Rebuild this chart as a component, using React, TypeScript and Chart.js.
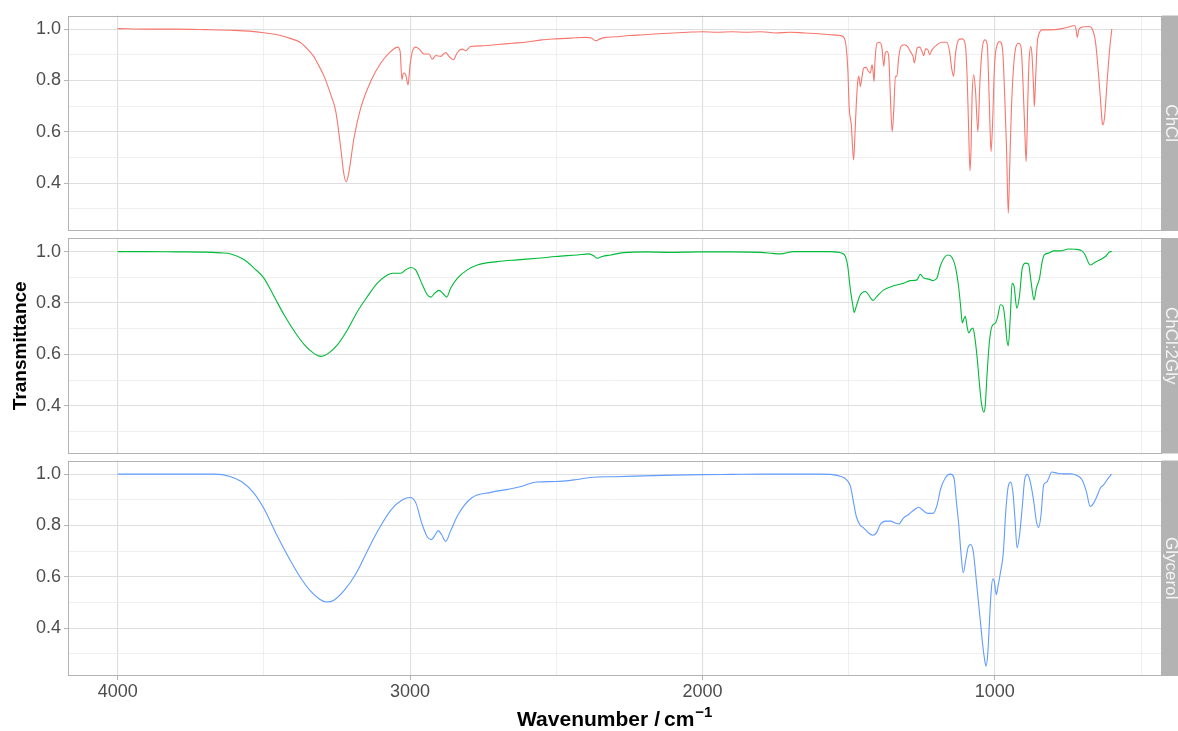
import React, { useEffect, useRef } from "react";
import { Chart, registerables } from "chart.js";

Chart.register(...registerables);

// ---------------- data (wavenumber cm^-1, transmittance) ----------------
const panelLabels = ["ChCl", "ChCl:2Gly", "Glycerol"];
const seriesColors = ["#F8766D", "#00BA38", "#619CFF"];

const xTickValues = [500, 1000, 1500, 2000, 2500, 3000, 3500, 4000];
const xLabelValues = [1000, 2000, 3000, 4000];
const yTickValues = [0.3, 0.4, 0.5, 0.6, 0.7, 0.8, 0.9, 1.0];
const yLabelValues = [0.4, 0.6, 0.8, 1.0];

const xTitleMain = "Wavenumber";
const xTitleUnit = "cm";
const xTitleExponent = "\u22121";
const yTitle = "Transmittance";

const chclSpectrum: [number, number][] = [
  [4000, 1.002], [3900, 1.0], [3800, 1.0], [3700, 0.998], [3600, 0.995], [3550, 0.992],
  [3500, 0.986], [3450, 0.977], [3408, 0.963], [3375, 0.948], [3351, 0.922], [3329, 0.893],
  [3317, 0.868], [3294, 0.816], [3271, 0.744], [3254, 0.679], [3237, 0.536], [3226, 0.432],
  [3218, 0.406], [3209, 0.445], [3192, 0.575], [3169, 0.692], [3135, 0.796], [3100, 0.868],
  [3066, 0.913], [3043, 0.93], [3034, 0.913], [3028, 0.803], [3023, 0.829], [3015, 0.822],
  [3007, 0.783], [3000, 0.861], [2992, 0.913], [2981, 0.93], [2969, 0.922], [2952, 0.903],
  [2935, 0.903], [2924, 0.883], [2912, 0.897], [2895, 0.894], [2878, 0.909], [2867, 0.894],
  [2852, 0.881], [2838, 0.91], [2821, 0.922], [2810, 0.916], [2793, 0.932], [2750, 0.935],
  [2700, 0.94], [2650, 0.945], [2600, 0.95], [2550, 0.958], [2500, 0.962], [2450, 0.965],
  [2400, 0.968], [2380, 0.965], [2365, 0.955], [2350, 0.962], [2330, 0.968], [2300, 0.97],
  [2250, 0.975], [2200, 0.978], [2150, 0.982], [2100, 0.985], [2050, 0.988], [2000, 0.99],
  [1950, 0.988], [1900, 0.99], [1850, 0.988], [1800, 0.99], [1750, 0.985], [1700, 0.988],
  [1650, 0.985], [1600, 0.982], [1563, 0.978], [1529, 0.975], [1515, 0.965], [1508, 0.926],
  [1503, 0.848], [1498, 0.692], [1491, 0.627], [1483, 0.491], [1478, 0.601], [1474, 0.705],
  [1469, 0.796], [1465, 0.816], [1460, 0.777], [1454, 0.816], [1449, 0.848], [1440, 0.851],
  [1432, 0.835], [1426, 0.829], [1420, 0.861], [1417, 0.842], [1413, 0.796], [1410, 0.874],
  [1403, 0.945], [1394, 0.949], [1386, 0.926], [1380, 0.855], [1375, 0.906], [1369, 0.913],
  [1363, 0.894], [1358, 0.757], [1351, 0.601], [1346, 0.679], [1340, 0.816], [1335, 0.816],
  [1329, 0.887], [1321, 0.932], [1310, 0.939], [1298, 0.932], [1289, 0.913], [1280, 0.894],
  [1275, 0.868], [1266, 0.926], [1257, 0.93], [1249, 0.913], [1243, 0.897], [1237, 0.923],
  [1230, 0.922], [1223, 0.9], [1215, 0.919], [1198, 0.939], [1181, 0.949], [1164, 0.949],
  [1155, 0.913], [1147, 0.842], [1141, 0.816], [1135, 0.9], [1124, 0.958], [1112, 0.962],
  [1101, 0.939], [1095, 0.822], [1090, 0.627], [1085, 0.448], [1081, 0.55], [1078, 0.731],
  [1072, 0.822], [1066, 0.757], [1058, 0.601], [1051, 0.796], [1043, 0.926], [1034, 0.958],
  [1026, 0.939], [1019, 0.718], [1013, 0.523], [1008, 0.627], [1001, 0.861], [992, 0.939],
  [983, 0.952], [973, 0.913], [966, 0.731], [960, 0.536], [954, 0.283], [949, 0.471],
  [944, 0.666], [937, 0.835], [929, 0.926], [918, 0.945], [910, 0.926], [903, 0.77],
  [897, 0.588], [893, 0.484], [887, 0.731], [883, 0.874], [877, 0.932], [873, 0.9],
  [867, 0.757], [865, 0.699], [860, 0.822], [855, 0.945], [850, 0.978], [838, 0.997],
  [810, 0.997], [775, 1.001], [741, 1.01], [728, 1.014], [723, 1.004], [718, 0.968],
  [713, 0.997], [701, 1.008], [678, 1.01], [667, 1.001], [656, 0.952], [648, 0.861],
  [639, 0.731], [633, 0.64], [630, 0.627], [624, 0.666], [616, 0.796], [607, 0.926],
  [600, 1.0],
];

const chcl2GlySpectrum: [number, number][] = [
  [4000, 1.0], [3900, 1.0], [3800, 0.999], [3700, 0.998], [3650, 0.995], [3613, 0.991],
  [3567, 0.968], [3533, 0.935], [3500, 0.897], [3465, 0.825], [3431, 0.754], [3396, 0.69],
  [3362, 0.638], [3328, 0.603], [3305, 0.592], [3282, 0.602], [3248, 0.638], [3214, 0.696],
  [3180, 0.767], [3146, 0.825], [3112, 0.877], [3078, 0.909], [3060, 0.916], [3032, 0.916],
  [3015, 0.929], [2998, 0.938], [2981, 0.929], [2958, 0.871], [2941, 0.832], [2929, 0.823],
  [2916, 0.838], [2901, 0.849], [2887, 0.836], [2875, 0.823], [2861, 0.858], [2838, 0.897],
  [2804, 0.929], [2770, 0.948], [2702, 0.961], [2633, 0.968], [2565, 0.974], [2501, 0.981],
  [2428, 0.987], [2388, 0.991], [2371, 0.983], [2360, 0.974], [2343, 0.981], [2314, 0.987],
  [2269, 0.996], [2189, 0.999], [2110, 0.997], [2018, 0.999], [1904, 0.999], [1800, 0.997],
  [1760, 0.993], [1734, 0.991], [1688, 1.0], [1620, 1.0], [1563, 1.0], [1523, 0.994],
  [1511, 0.981], [1503, 0.942], [1494, 0.851], [1486, 0.793], [1481, 0.763], [1474, 0.787],
  [1460, 0.832], [1443, 0.845], [1432, 0.832], [1417, 0.81], [1403, 0.826], [1380, 0.851],
  [1346, 0.867], [1312, 0.877], [1289, 0.887], [1266, 0.89], [1255, 0.912], [1243, 0.897],
  [1226, 0.893], [1212, 0.887], [1198, 0.897], [1187, 0.942], [1170, 0.981], [1158, 0.987],
  [1147, 0.978], [1135, 0.942], [1124, 0.864], [1118, 0.799], [1111, 0.722], [1107, 0.735],
  [1101, 0.748], [1095, 0.709], [1089, 0.683], [1082, 0.696], [1075, 0.702], [1069, 0.67],
  [1061, 0.592], [1053, 0.489], [1046, 0.411], [1038, 0.375], [1033, 0.398], [1027, 0.515],
  [1019, 0.644], [1010, 0.709], [998, 0.722], [990, 0.748], [981, 0.793], [972, 0.787],
  [964, 0.722], [959, 0.657], [954, 0.634], [947, 0.748], [941, 0.877], [934, 0.864],
  [925, 0.78], [916, 0.825], [907, 0.929], [896, 0.955], [885, 0.952], [877, 0.89],
  [871, 0.838], [866, 0.812], [858, 0.858], [847, 0.897], [839, 0.955], [831, 0.987],
  [816, 0.994], [799, 1.003], [776, 1.003], [748, 1.01], [725, 1.009], [702, 1.003],
  [691, 0.987], [679, 0.955], [672, 0.948], [657, 0.959], [640, 0.968], [622, 0.981],
  [605, 1.0], [600, 1.0],
];

const glycerolSpectrum: [number, number][] = [
  [4000, 1.0], [3800, 1.0], [3668, 1.0], [3616, 0.991], [3577, 0.971], [3537, 0.93],
  [3500, 0.866], [3459, 0.77], [3419, 0.683], [3380, 0.606], [3341, 0.545], [3308, 0.512],
  [3286, 0.502], [3262, 0.508], [3223, 0.55], [3184, 0.615], [3144, 0.706], [3105, 0.79],
  [3065, 0.861], [3026, 0.9], [3000, 0.909], [2980, 0.887], [2960, 0.809], [2941, 0.755],
  [2927, 0.745], [2914, 0.764], [2904, 0.78], [2892, 0.764], [2878, 0.738], [2862, 0.777],
  [2836, 0.842], [2790, 0.907], [2724, 0.929], [2659, 0.942], [2620, 0.952], [2567, 0.969],
  [2502, 0.971], [2436, 0.978], [2384, 0.987], [2300, 0.99], [2200, 0.993], [2100, 0.996],
  [2000, 0.998], [1900, 0.999], [1800, 1.0], [1700, 1.0], [1600, 1.0], [1563, 0.999],
  [1529, 0.992], [1506, 0.977], [1494, 0.953], [1485, 0.901], [1474, 0.836], [1460, 0.8],
  [1449, 0.791], [1432, 0.771], [1417, 0.762], [1405, 0.771], [1392, 0.804], [1374, 0.817],
  [1357, 0.817], [1340, 0.81], [1329, 0.806], [1312, 0.83], [1295, 0.843], [1277, 0.86],
  [1260, 0.871], [1249, 0.862], [1234, 0.849], [1220, 0.847], [1209, 0.849], [1197, 0.882],
  [1186, 0.94], [1169, 0.986], [1152, 1.0], [1140, 0.986], [1131, 0.888], [1123, 0.797],
  [1115, 0.681], [1108, 0.616], [1100, 0.662], [1092, 0.713], [1083, 0.726], [1074, 0.7],
  [1066, 0.616], [1057, 0.512], [1049, 0.421], [1041, 0.33], [1034, 0.271], [1030, 0.252],
  [1024, 0.304], [1018, 0.434], [1013, 0.538], [1007, 0.592], [1002, 0.583], [995, 0.531],
  [989, 0.564], [981, 0.616], [971, 0.694], [963, 0.849], [955, 0.947], [946, 0.969],
  [938, 0.927], [931, 0.823], [924, 0.713], [916, 0.758], [906, 0.875], [898, 0.979],
  [889, 0.999], [879, 0.971], [867, 0.894], [858, 0.816], [850, 0.792], [842, 0.842],
  [833, 0.958], [822, 0.969], [816, 0.984], [805, 1.008], [788, 1.004], [765, 1.001],
  [742, 1.001], [719, 0.995], [702, 0.978], [687, 0.933], [674, 0.874], [662, 0.887],
  [651, 0.913], [639, 0.946], [628, 0.958], [616, 0.978], [603, 0.997], [600, 1.0],
];

const spectra = [chclSpectrum, chcl2GlySpectrum, glycerolSpectrum];

// ---------------- layout / style ----------------
const W = 1178;
const H = 731;
const PANEL_LEFT = 68;
const PANEL_RIGHT = 1161.5;
const panelBounds: [number, number][] = [
  [15.5, 231],
  [238, 453.5],
  [460.5, 676],
];
const X_MIN = 430;
const X_MAX = 4170;
const Y_MIN = 0.214;
const Y_MAX = 1.053;
const FONT = "'Liberation Sans', Arial, Helvetica, sans-serif";
const TICK_SIZE = 18;
const STRIP_SIZE = 17;
const TITLE_SIZE = 19;
const XTITLE_SIZE = 21;
const XTITLE_SUP_SIZE = 15;

const isIn = (arr: number[], v: number) => arr.some((a) => Math.abs(a - v) < 1e-6);

function makePlugin(idx: number, isLast: boolean) {
  return {
    id: "facetDecor" + idx,
    afterDatasetsDraw(chart: any) {
      const { ctx, chartArea } = chart;
      ctx.save();
      // panel border
      ctx.strokeStyle = "#B3B3B3";
      ctx.lineWidth = 1;
      ctx.strokeRect(
        Math.round(chartArea.left) + 0.5,
        Math.round(chartArea.top) + 0.5,
        Math.round(chartArea.right) - Math.round(chartArea.left) - 1,
        Math.round(chartArea.bottom) - Math.round(chartArea.top) - 1
      );
      // strip
      const sx = Math.round(chartArea.right);
      ctx.fillStyle = "#B3B3B3";
      ctx.fillRect(sx, chartArea.top, W - sx + 5, chartArea.bottom - chartArea.top);
      ctx.fillStyle = "#F5F5F5";
      ctx.font = `${STRIP_SIZE}px ${FONT}`;
      ctx.textAlign = "center";
      ctx.textBaseline = "alphabetic";
      ctx.translate(sx + 4, (chartArea.top + chartArea.bottom) / 2);
      ctx.rotate(Math.PI / 2);
      ctx.fillText(panelLabels[idx], 0, 0);
      ctx.restore();
    },
    afterDraw(chart: any) {
      if (!isLast) return;
      const { ctx, chartArea } = chart;
      ctx.save();
      ctx.fillStyle = "#000000";
      ctx.textAlign = "left";
      ctx.textBaseline = "alphabetic";
      const mainFont = `bold ${XTITLE_SIZE}px ${FONT}`;
      const supFont = `bold ${XTITLE_SUP_SIZE}px ${FONT}`;
      ctx.font = mainFont;
      const wMain = ctx.measureText(xTitleMain).width;
      const wSlash = ctx.measureText("/").width;
      const wUnit = ctx.measureText(xTitleUnit).width;
      ctx.font = supFont;
      const wSup = ctx.measureText(xTitleExponent).width;
      const gap1 = 6;
      const gap2 = 4;
      const total = wMain + gap1 + wSlash + gap2 + wUnit + 1 + wSup;
      let x = (chartArea.left + chartArea.right) / 2 - total / 2;
      const baseY = 726;
      ctx.font = mainFont;
      ctx.fillText(xTitleMain, x, baseY);
      x += wMain + gap1;
      ctx.fillText("/", x, baseY);
      x += wSlash + gap2;
      ctx.fillText(xTitleUnit, x, baseY);
      x += wUnit + 1;
      ctx.font = supFont;
      ctx.fillText(xTitleExponent, x, baseY - 9);
      ctx.restore();
    },
  };
}

function Panel({ idx }: { idx: number }) {
  const ref = useRef<HTMLCanvasElement | null>(null);
  useEffect(() => {
    const canvas = ref.current;
    if (!canvas) return;
    const [top, bottom] = panelBounds[idx];
    const isLast = idx === panelBounds.length - 1;
    const chart = new Chart(canvas, {
      type: "line",
      data: {
        datasets: [
          {
            label: panelLabels[idx],
            data: spectra[idx].map(([x, y]) => ({ x, y })),
            borderColor: seriesColors[idx],
            backgroundColor: seriesColors[idx],
            borderWidth: 1.1,
            pointRadius: 0,
            fill: false,
            cubicInterpolationMode: "monotone",
          },
        ],
      },
      options: {
        animation: false,
        responsive: false,
        maintainAspectRatio: false,
        devicePixelRatio: 1,
        events: [],
        layout: {
          padding: {
            top,
            bottom: isLast ? 0 : H - bottom,
            left: 0,
            right: W - PANEL_RIGHT,
          },
        },
        plugins: {
          legend: { display: false },
          tooltip: { enabled: false },
        },
        scales: {
          x: {
            type: "linear",
            reverse: true,
            min: X_MIN,
            max: X_MAX,
            afterBuildTicks: (s: any) => {
              s.ticks = xTickValues.map((v) => ({ value: v }));
            },
            afterFit: (s: any) => {
              s.height = isLast ? H - bottom : 0;
            },
            border: { display: false },
            grid: {
              color: (c: any) => (isIn(xLabelValues, c.tick?.value) ? "#DEDEDE" : "#EBEBEB"),
              lineWidth: (c: any) => (isIn(xLabelValues, c.tick?.value) ? 1.1 : 0.8),
              drawTicks: isLast,
              tickLength: 4,
              tickColor: (c: any) =>
                isIn(xLabelValues, c.tick?.value) ? "#B3B3B3" : "rgba(0,0,0,0)",
              tickWidth: 1,
            },
            ticks: {
              display: isLast,
              autoSkip: false,
              maxRotation: 0,
              padding: 1,
              color: "#4D4D4D",
              font: { family: FONT, size: TICK_SIZE },
              callback: (v: any) => (isIn(xLabelValues, Number(v)) ? String(v) : ""),
            },
            title: { display: false },
          },
          y: {
            type: "linear",
            min: Y_MIN,
            max: Y_MAX,
            afterBuildTicks: (s: any) => {
              s.ticks = yTickValues.map((v) => ({ value: v }));
            },
            afterFit: (s: any) => {
              s.width = PANEL_LEFT;
            },
            border: { display: false },
            grid: {
              color: (c: any) => (isIn(yLabelValues, c.tick?.value) ? "#DEDEDE" : "#EBEBEB"),
              lineWidth: (c: any) => (isIn(yLabelValues, c.tick?.value) ? 1.1 : 0.8),
              drawTicks: true,
              tickLength: 4,
              tickColor: (c: any) =>
                isIn(yLabelValues, c.tick?.value) ? "#B3B3B3" : "rgba(0,0,0,0)",
              tickWidth: 1,
            },
            ticks: {
              autoSkip: false,
              padding: 3,
              color: "#4D4D4D",
              font: { family: FONT, size: TICK_SIZE },
              callback: (v: any) => (isIn(yLabelValues, Number(v)) ? Number(v).toFixed(1) : ""),
            },
            title: {
              display: idx === 1,
              text: yTitle,
              color: "#000000",
              font: { family: FONT, size: TITLE_SIZE, weight: "bold" },
              padding: { top: 9, bottom: 0 },
            },
          },
        },
      },
      plugins: [makePlugin(idx, isLast)],
    } as any);
    return () => chart.destroy();
  }, [idx]);
  return (
    <canvas
      ref={ref}
      width={W}
      height={H}
      style={{ position: "absolute", left: 0, top: 0, width: W, height: H }}
    />
  );
}

export default function App() {
  return (
    <div
      style={{
        position: "fixed",
        left: 0,
        top: 0,
        width: W,
        height: H,
        background: "#FFFFFF",
        overflow: "hidden",
      }}
    >
      {panelBounds.map((_, i) => (
        <Panel key={i} idx={i} />
      ))}
    </div>
  );
}
